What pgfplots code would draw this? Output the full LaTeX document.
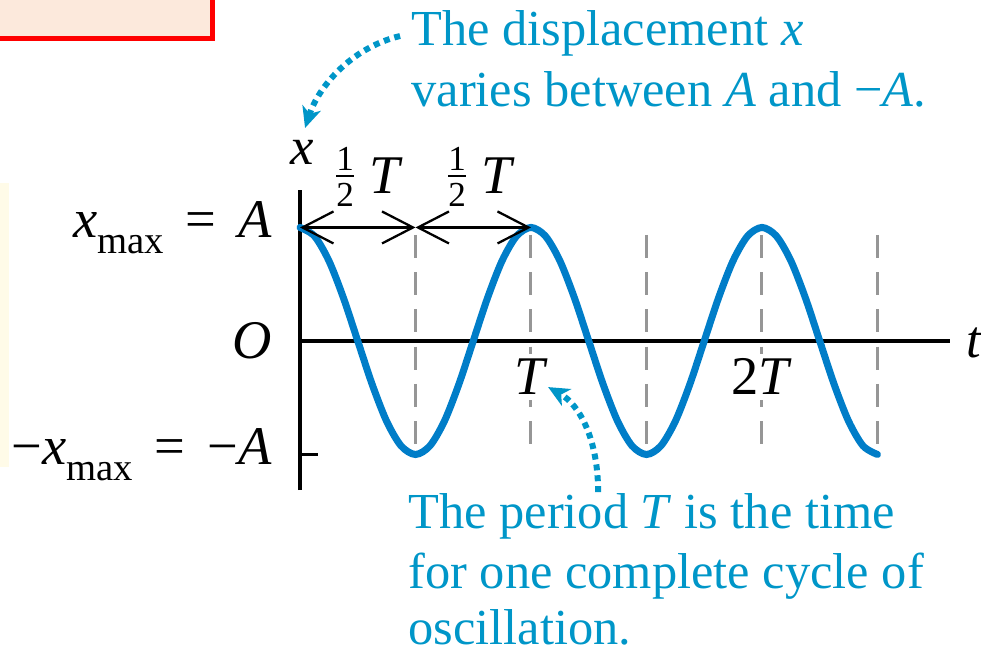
\documentclass[border=0pt]{standalone}
\usepackage{pgfplots}
\pgfplotsset{compat=1.18}
\usepackage{fontspec}
\setmainfont{Liberation Serif}
\usetikzlibrary{arrows.meta}

\definecolor{curveblue}{RGB}{0,125,200}
\definecolor{noteblue}{RGB}{0,150,200}
\definecolor{dashgray}{RGB}{150,150,150}
\definecolor{boxred}{RGB}{255,0,0}
\definecolor{boxfill}{RGB}{252,233,220}
\definecolor{panelfill}{RGB}{255,251,232}

% x_max written with an upright subscript
\newcommand{\xmax}{\textit{x}\raisebox{-0.3em}{\fontsize{22}{22}\selectfont max}}
\newcommand{\eq}{\hspace{0.4em}=\hspace{0.4em}}

\begin{document}
\begin{tikzpicture}
\useasboundingbox (0,0) rectangle (19.62cm,-13.04cm);
\clip (0,0) rectangle (19.62cm,-13.04cm);

% background panels
\begin{scope}[x=0.02cm,y=-0.02cm]
  \fill[panelfill] (-5,183) rectangle (9,467);
  \draw[boxred, fill=boxfill, line width=2.8pt] (-20,-20) rectangle (212.5,38.5);
\end{scope}

\begin{axis}[
  at={(6cm,-9.8cm)}, anchor=south west,
  scale only axis, width=13cm, height=6cm,
  xmin=0, xmax=2.814, ymin=-1.313, ymax=1.330,
  axis x line=middle, axis y line=left,
  axis line style={-, line width=1.8pt, black},
  xtick=\empty,
  ytick={-1,0,1},
  yticklabels={{−\xmax\eq−\textit{A}},{\textit{O}},{\xmax\eq\textit{A}}},
  tick align=inside,
  major tick length=0.36cm,
  tick style={line width=1.8pt, black},
  yticklabel style={font=\fontsize{31}{36}\selectfont, inner sep=0pt, xshift=-0.56cm},
  clip=false,
]
% half-period markers
\foreach \t in {0.5,1,1.5,2,2.5}{
  \edef\temp{\noexpand\draw[dashgray, line width=1.7pt, dash pattern=on 13pt off 8.2pt]
    (axis cs:\t,0.934) -- (axis cs:\t,-0.934);}
  \temp
}
\node[fill=white, inner sep=3pt, anchor=base, font=\fontsize{31}{36}\selectfont]
  at (axis cs:1,-0.475) {\textit{T}};
\node[fill=white, inner sep=3pt, anchor=base, font=\fontsize{31}{36}\selectfont]
  at (axis cs:2,-0.475) {2\textit{T}};

% x(t) = A cos(2 pi t / T), sampled every T/16
\addplot[curveblue, line width=4pt, line cap=round, smooth] coordinates {
 (0,1) (0.0625,0.9239) (0.125,0.7071) (0.1875,0.3827) (0.25,0)
 (0.3125,-0.3827) (0.375,-0.7071) (0.4375,-0.9239) (0.5,-1)
 (0.5625,-0.9239) (0.625,-0.7071) (0.6875,-0.3827) (0.75,0)
 (0.8125,0.3827) (0.875,0.7071) (0.9375,0.9239) (1,1)
 (1.0625,0.9239) (1.125,0.7071) (1.1875,0.3827) (1.25,0)
 (1.3125,-0.3827) (1.375,-0.7071) (1.4375,-0.9239) (1.5,-1)
 (1.5625,-0.9239) (1.625,-0.7071) (1.6875,-0.3827) (1.75,0)
 (1.8125,0.3827) (1.875,0.7071) (1.9375,0.9239) (2,1)
 (2.0625,0.9239) (2.125,0.7071) (2.1875,0.3827) (2.25,0)
 (2.3125,-0.3827) (2.375,-0.7071) (2.4375,-0.9239) (2.5,-1)
};

% two half periods
\draw[black, line width=1.3pt, {Straight Barb[length=0.62cm,width=0.64cm]}-{Straight Barb[length=0.62cm,width=0.64cm]}]
  (axis cs:0,1) -- (axis cs:0.5,1);
\draw[black, line width=1.3pt, {Straight Barb[length=0.62cm,width=0.64cm]}-{Straight Barb[length=0.62cm,width=0.64cm]}]
  (axis cs:0.5,1) -- (axis cs:1,1);
\end{axis}

\begin{scope}[x=0.02cm,y=-0.02cm]
  % axis names
  \node[anchor=base, font=\fontsize{30}{34}\selectfont] at (302,164) {\textit{x}};
  \node[anchor=base west, inner sep=0pt, font=\fontsize{30}{34}\selectfont] at (966,357) {\textit{t}};
  % half-period labels: 1/2 T
  \foreach \cx in {345,457}{
    \node[anchor=base, inner sep=0pt, font=\fontsize{20}{20}\selectfont] at (\cx,170) {1};
    \draw[black, line width=1pt] (\cx-9,176) -- (\cx+9,176);
    \node[anchor=base, inner sep=0pt, font=\fontsize{20}{20}\selectfont] at (\cx,206) {2};
    \node[anchor=base west, inner sep=0pt, font=\fontsize{31}{36}\selectfont] at (\cx+24,193) {\textit{T}};
  }

  % notes
  \begin{scope}[noteblue, font=\fontsize{28.7}{34}\selectfont]
    \node[anchor=base west, inner sep=0pt] at (411,45) {The displacement \textit{x}};
    \node[anchor=base west, inner sep=0pt] at (411,106) {varies between \textit{A} and −\textit{A}.};
    \node[anchor=base west, inner sep=0pt] at (408,528) {The period \textit{T} is the time};
    \node[anchor=base west, inner sep=0pt] at (408,588) {for one complete cycle of};
    \node[anchor=base west, inner sep=0pt] at (408,644) {oscillation.};
  \end{scope}
  \draw[noteblue, line width=3.4pt, dash pattern=on 3.4pt off 2.8pt,
        -{Stealth[length=0.42cm,width=0.38cm,inset=0.12cm]}]
    (400,36) .. controls (350,48) and (318,88) .. (305,128);
  \draw[noteblue, line width=3.4pt, dash pattern=on 3.4pt off 2.8pt,
        -{Stealth[length=0.42cm,width=0.38cm,inset=0.12cm]}]
    (598,492) .. controls (598,440) and (580,405) .. (548,387);
\end{scope}
\end{tikzpicture}
\end{document}
